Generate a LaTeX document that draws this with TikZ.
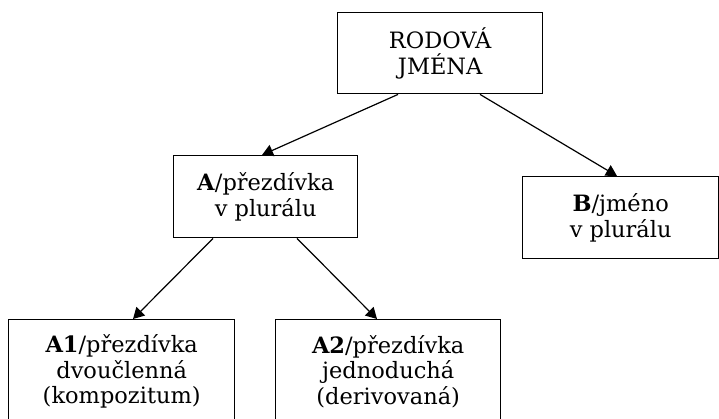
\documentclass[tikz,border=0pt]{standalone}
\usepackage{fontspec}
\setmainfont{DejaVu Serif}
\usetikzlibrary{arrows.meta,calc}
\begin{document}
\begin{tikzpicture}[x=1pt,y=-1pt,
  box/.style={draw=black,line width=1.4pt,rectangle,inner sep=0pt,anchor=north west,
    align=center,font=\fontsize{22.5}{25.5}\selectfont},
  conn/.style={line width=1.2pt,-{Triangle[length=11pt,width=12pt]}}]
\useasboundingbox (0,0) rectangle (719,418);
\node[box,minimum width=205pt,minimum height=81pt] (top) at (337,12) {RODOVÁ\\JMÉNA};
\node[box,minimum width=184pt,minimum height=82pt] (A) at (173,155) {\textbf{A}/přezdívka\\v plurálu};
\node[box,minimum width=196pt,minimum height=82pt] (B) at (522,176) {\textbf{B}/jméno\\v plurálu};
\node[box,minimum width=226pt,minimum height=104pt] (A1) at (8,319) {\textbf{A1}/přezdívka\\dvoučlenná\\(kompozitum)};
\node[box,minimum width=225pt,minimum height=104pt] (A2) at (275,319) {\textbf{A2}/přezdívka\\jednoduchá\\(derivovaná)};
\draw[conn] ($(top.south west)+(61,0)$) -- ($(A.north west)+(89,0)$);
\draw[conn] ($(top.south west)+(143,0)$) -- ($(B.north west)+(95,0)$);
\draw[conn] ($(A.south west)+(40,0)$) -- ($(A1.north west)+(125,0)$);
\draw[conn] ($(A.south west)+(124,0)$) -- ($(A2.north west)+(102,0)$);
\end{tikzpicture}
\end{document}
